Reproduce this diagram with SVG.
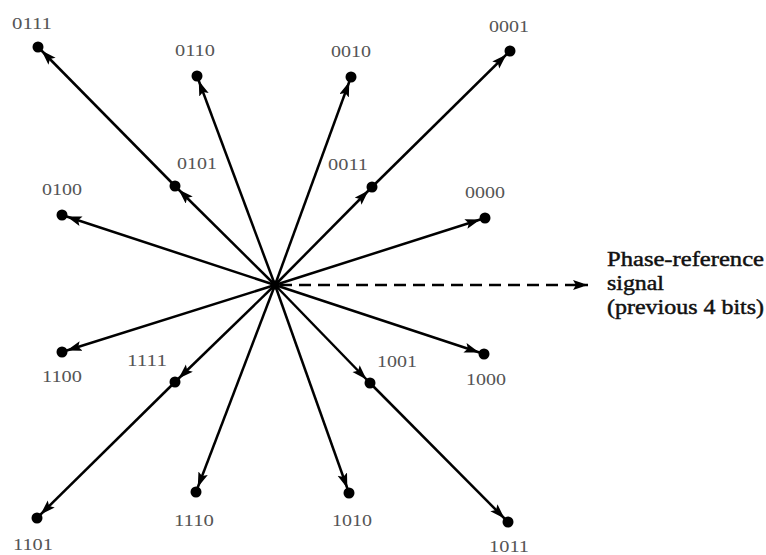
<svg xmlns="http://www.w3.org/2000/svg" width="766" height="555" viewBox="0 0 766 555">
<style>
.bg{fill:#fff}
.ln{stroke:#000;stroke-width:2.5;fill:none;marker-end:url(#ah)}
.dash{stroke:#000;stroke-width:2.4;fill:none;stroke-dasharray:12 7;marker-end:url(#ah2)}
.dot{fill:#000}
.lbl{font-family:"Liberation Serif","Times New Roman",serif;font-size:16px;fill:#555;text-anchor:middle}
.big{font-family:"Liberation Serif","Times New Roman",serif;font-size:20px;fill:#111;stroke:#111;stroke-width:0.45}
</style>
<defs>
<marker id="ah" markerUnits="userSpaceOnUse" markerWidth="22" markerHeight="12" refX="20" refY="5" orient="auto">
<path d="M0,0 L15,5 L0,10 L3,5 z" fill="#000"/>
</marker>
<marker id="ah2" markerUnits="userSpaceOnUse" markerWidth="16" markerHeight="12" refX="15" refY="5" orient="auto">
<path d="M0,0 L15,5 L0,10 L3,5 z" fill="#000"/>
</marker>
</defs>
<rect class="bg" x="0" y="0" width="766" height="555"/>
<g id="connectors">
<line class="ln" x1="275" y1="285" x2="175" y2="186"/>
<line class="ln" x1="175" y1="186" x2="38" y2="47"/>
<line class="ln" x1="275" y1="285" x2="197" y2="76"/>
<line class="ln" x1="275" y1="285" x2="351" y2="77"/>
<line class="ln" x1="275" y1="285" x2="372" y2="187"/>
<line class="ln" x1="372" y1="187" x2="510" y2="51"/>
<line class="ln" x1="275" y1="285" x2="62" y2="215"/>
<line class="ln" x1="275" y1="285" x2="485" y2="218"/>
<line class="ln" x1="275" y1="285" x2="62" y2="352"/>
<line class="ln" x1="275" y1="285" x2="175" y2="382"/>
<line class="ln" x1="175" y1="382" x2="37" y2="518"/>
<line class="ln" x1="275" y1="285" x2="196" y2="492"/>
<line class="ln" x1="275" y1="285" x2="349" y2="493"/>
<line class="ln" x1="275" y1="285" x2="370" y2="383"/>
<line class="ln" x1="370" y1="383" x2="508" y2="522"/>
<line class="ln" x1="275" y1="285" x2="484" y2="354"/>
<line class="dash" x1="280" y1="285" x2="588" y2="285"/>
</g>
<g id="center"><circle class="dot" cx="275" cy="285" r="4.5"/></g>
<g id="n0111"><circle class="dot" cx="38" cy="47" r="5.5"/><text class="lbl" x="32" y="29" textLength="40" lengthAdjust="spacingAndGlyphs">0111</text></g>
<g id="n0110"><circle class="dot" cx="197" cy="76" r="5.5"/><text class="lbl" x="195" y="56" textLength="40" lengthAdjust="spacingAndGlyphs">0110</text></g>
<g id="n0010"><circle class="dot" cx="351" cy="77" r="5.5"/><text class="lbl" x="351" y="57" textLength="40" lengthAdjust="spacingAndGlyphs">0010</text></g>
<g id="n0001"><circle class="dot" cx="510" cy="51" r="5.5"/><text class="lbl" x="509" y="32" textLength="40" lengthAdjust="spacingAndGlyphs">0001</text></g>
<g id="n0101"><circle class="dot" cx="175" cy="186" r="5.5"/><text class="lbl" x="197" y="169" textLength="40" lengthAdjust="spacingAndGlyphs">0101</text></g>
<g id="n0011"><circle class="dot" cx="372" cy="187" r="5.5"/><text class="lbl" x="348" y="170" textLength="40" lengthAdjust="spacingAndGlyphs">0011</text></g>
<g id="n0100"><circle class="dot" cx="62" cy="215" r="5.5"/><text class="lbl" x="62" y="195" textLength="40" lengthAdjust="spacingAndGlyphs">0100</text></g>
<g id="n0000"><circle class="dot" cx="485" cy="218" r="5.5"/><text class="lbl" x="485" y="198" textLength="40" lengthAdjust="spacingAndGlyphs">0000</text></g>
<g id="n1100"><circle class="dot" cx="62" cy="352" r="5.5"/><text class="lbl" x="62" y="382" textLength="40" lengthAdjust="spacingAndGlyphs">1100</text></g>
<g id="n1111"><circle class="dot" cx="175" cy="382" r="5.5"/><text class="lbl" x="147" y="366" textLength="40" lengthAdjust="spacingAndGlyphs">1111</text></g>
<g id="n1101"><circle class="dot" cx="37" cy="518" r="5.5"/><text class="lbl" x="33" y="550" textLength="40" lengthAdjust="spacingAndGlyphs">1101</text></g>
<g id="n1110"><circle class="dot" cx="196" cy="492" r="5.5"/><text class="lbl" x="194" y="526" textLength="40" lengthAdjust="spacingAndGlyphs">1110</text></g>
<g id="n1001"><circle class="dot" cx="370" cy="383" r="5.5"/><text class="lbl" x="397" y="367" textLength="40" lengthAdjust="spacingAndGlyphs">1001</text></g>
<g id="n1000"><circle class="dot" cx="484" cy="354" r="5.5"/><text class="lbl" x="486" y="385" textLength="40" lengthAdjust="spacingAndGlyphs">1000</text></g>
<g id="n1010"><circle class="dot" cx="349" cy="493" r="5.5"/><text class="lbl" x="352" y="526" textLength="40" lengthAdjust="spacingAndGlyphs">1010</text></g>
<g id="n1011"><circle class="dot" cx="508" cy="522" r="5.5"/><text class="lbl" x="509" y="552" textLength="40" lengthAdjust="spacingAndGlyphs">1011</text></g>
<g id="ref-label">
<text class="big" x="607" y="266" textLength="157" lengthAdjust="spacingAndGlyphs">Phase-reference</text>
<text class="big" x="607" y="290" textLength="57" lengthAdjust="spacingAndGlyphs">signal</text>
<text class="big" x="607" y="314" textLength="157" lengthAdjust="spacingAndGlyphs">(previous 4 bits)</text>
</g>
</svg>
